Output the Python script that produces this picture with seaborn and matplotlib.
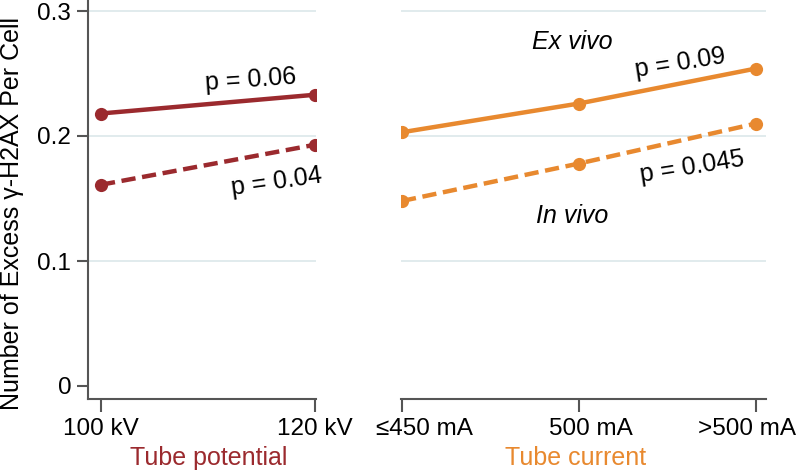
import numpy as np
import pandas as pd
import matplotlib
matplotlib.use("Agg")
import matplotlib.pyplot as plt
import matplotlib.transforms as mtransforms
import seaborn as sns

# data
kv_labels = ["100 kV", "120 kV"]
kv_ex_vivo = [0.218, 0.233]
kv_in_vivo = [0.161, 0.193]

ma_labels = ["≤450 mA", "500 mA", ">500 mA"]
ma_ex_vivo = [0.203, 0.226, 0.254]
ma_in_vivo = [0.148, 0.178, 0.210]

red = "#9b2a2e"
orange = "#e8892f"
axis_col = "#555555"
grid_col = "#dbe8ea"

sns.set_theme(style="white")
plt.rcParams["font.family"] = ["Liberation Sans", "DejaVu Sans"]
plt.rcParams["text.color"] = "black"

fig = plt.figure(figsize=(8, 4.74), dpi=100)
W, H = 800, 474
ax1 = fig.add_axes([88 / W, 75 / H, 228 / W, 399 / H])
ax2 = fig.add_axes([401 / W, 75 / H, 365 / W, 399 / H])

df_kv = pd.DataFrame({"x": np.arange(len(kv_labels)), "ex": kv_ex_vivo, "inv": kv_in_vivo})
df_ma = pd.DataFrame({"x": np.arange(len(ma_labels)), "ex": ma_ex_vivo, "inv": ma_in_vivo})

for ax, df, col in [(ax1, df_kv, red), (ax2, df_ma, orange)]:
    for yv in [0.1, 0.2, 0.3]:
        ax.axhline(yv, color=grid_col, lw=1.2, zorder=0)
    sns.lineplot(data=df, x="x", y="ex", ax=ax, color=col, lw=3.2, marker="o",
                 markersize=9.5, markeredgewidth=0)
    sns.lineplot(data=df, x="x", y="inv", ax=ax, color=col, lw=3.2, marker="o",
                 markersize=9.5, markeredgewidth=0, linestyle=(0, (3.2, 1.5)))
    ax.set_ylim(-0.0104, 0.3088)
    ax.set_xlabel("")
    ax.set_ylabel("")
    for s in ["top", "right"]:
        ax.spines[s].set_visible(False)
    ax.spines["bottom"].set_color(axis_col)
    ax.spines["bottom"].set_linewidth(1.5)
    ax.tick_params(axis="x", direction="out", length=9, width=1.5, color=axis_col,
                   labelsize=17.5, labelcolor="black", pad=5, bottom=True)

ax1.set_xlim(-0.0607, 1.0047)
ax1.set_xticks(df_kv["x"], kv_labels)
ax1.set_yticks([0, 0.1, 0.2, 0.3], ["0", "0.1", "0.2", "0.3"])
ax1.spines["left"].set_color(axis_col)
ax1.spines["left"].set_linewidth(1.5)
ax1.tick_params(axis="y", direction="out", length=8, width=1.5, color=axis_col,
                labelsize=17.5, labelcolor="black", pad=4, left=True)

ax2.set_xlim(-0.0056, 2.056)
ax2.set_xticks(df_ma["x"], ma_labels)
ax2.set_yticks([])
ax2.spines["left"].set_visible(False)

# the current labels sit a bit off their ticks in the original
for lbl, dx in zip(ax2.get_xticklabels(), [22, 12, -9]):
    lbl.set_transform(lbl.get_transform() +
                      mtransforms.ScaledTranslation(dx / 100, 0, fig.dpi_scale_trans))

# annotations
ax1.text(0.7, 0.2448, "p = 0.06", fontsize=18, rotation=4, ha="center", va="center")
ax1.text(0.82, 0.163, "p = 0.04", fontsize=18, rotation=8, ha="center", va="center")
ax2.text(1.57, 0.258, "p = 0.09", fontsize=18, rotation=9, ha="center", va="center")
ax2.text(1.64, 0.175, "p = 0.045", fontsize=18, rotation=9, ha="center", va="center")
ax2.text(0.96, 0.275, "Ex vivo", fontsize=18, style="italic", ha="center", va="center")
ax2.text(0.96, 0.136, "In vivo", fontsize=18, style="italic", ha="center", va="center")

fig.text(209 / W, 1 - 458 / H, "Tube potential", color=red, fontsize=18, ha="center", va="center")
fig.text(576 / W, 1 - 458 / H, "Tube current", color=orange, fontsize=18, ha="center", va="center")
fig.text(12 / W, 1 - 213 / H, "Number of Excess γ-H2AX Per Cell", fontsize=18,
         rotation=90, ha="center", va="center")

fig.savefig("out.png", dpi=100)
